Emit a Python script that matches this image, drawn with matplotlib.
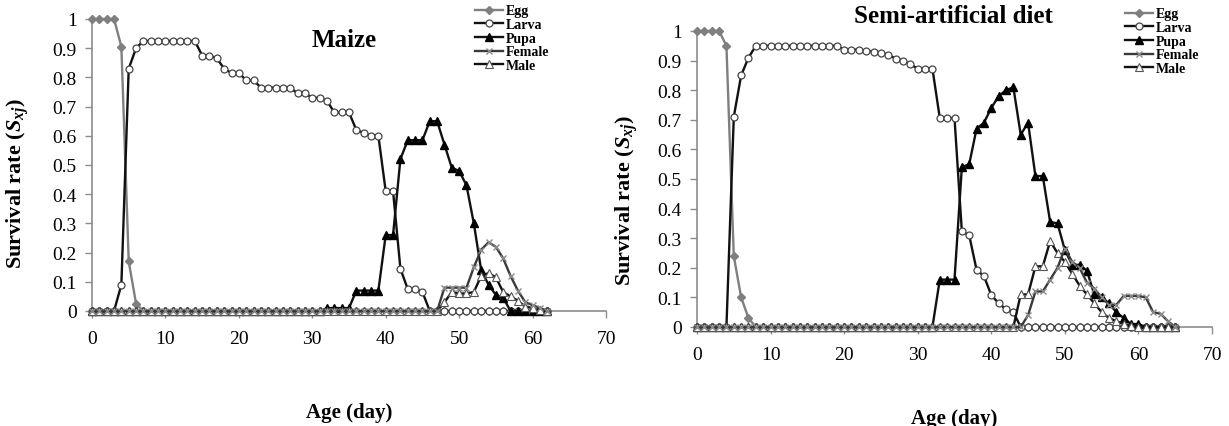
import matplotlib
matplotlib.use('Agg')
import matplotlib.pyplot as plt

plt.rcParams['font.family'] = ['Liberation Serif', 'DejaVu Serif']
plt.rcParams['mathtext.fontset'] = 'custom'
plt.rcParams['mathtext.it'] = 'Liberation Serif:italic:bold'
plt.rcParams['mathtext.rm'] = 'Liberation Serif:bold'
plt.rcParams['mathtext.bf'] = 'Liberation Serif:bold'

# ---------------- Maize (days 0-62) ----------------
maize_days = list(range(0, 63))
maize_egg = [1, 1, 1, 1, 0.905, 0.17, 0.025, 0, 0, 0,
             0, 0, 0, 0, 0, 0, 0, 0, 0, 0,
             0, 0, 0, 0, 0, 0, 0, 0, 0, 0,
             0, 0, 0, 0, 0, 0, 0, 0, 0, 0,
             0, 0, 0, 0, 0, 0, 0, 0, 0, 0,
             0, 0, 0, 0, 0, 0, 0, 0, 0, 0,
             0, 0, 0]
maize_larva = [0, 0, 0, 0, 0.09, 0.83, 0.90, 0.925, 0.925, 0.925,
               0.925, 0.925, 0.925, 0.925, 0.925, 0.875, 0.875, 0.865, 0.83, 0.815,
               0.815, 0.79, 0.79, 0.765, 0.765, 0.765, 0.765, 0.765, 0.745, 0.745,
               0.73, 0.73, 0.72, 0.68, 0.68, 0.68, 0.62, 0.61, 0.60, 0.60,
               0.41, 0.41, 0.145, 0.075, 0.075, 0.065, 0, 0, 0, 0,
               0, 0, 0, 0, 0, 0, 0, 0, 0, 0,
               0, 0, 0]
maize_pupa = [0, 0, 0, 0, 0, 0, 0, 0, 0, 0,
              0, 0, 0, 0, 0, 0, 0, 0, 0, 0,
              0, 0, 0, 0, 0, 0, 0, 0, 0, 0,
              0, 0, 0.01, 0.01, 0.01, 0.01, 0.07, 0.07, 0.07, 0.07,
              0.26, 0.26, 0.52, 0.585, 0.585, 0.585, 0.65, 0.65, 0.57, 0.49,
              0.48, 0.43, 0.30, 0.14, 0.09, 0.055, 0.045, 0, 0, 0,
              0, 0, 0]
maize_female = [0, 0, 0, 0, 0, 0, 0, 0, 0, 0,
                0, 0, 0, 0, 0, 0, 0, 0, 0, 0,
                0, 0, 0, 0, 0, 0, 0, 0, 0, 0,
                0, 0, 0, 0, 0, 0, 0, 0, 0, 0,
                0, 0, 0, 0, 0, 0, 0, 0, 0.08, 0.08,
                0.08, 0.08, 0.15, 0.21, 0.235, 0.22, 0.18, 0.12, 0.07, 0.03,
                0.02, 0.01, 0]
maize_male = [0, 0, 0, 0, 0, 0, 0, 0, 0, 0,
              0, 0, 0, 0, 0, 0, 0, 0, 0, 0,
              0, 0, 0, 0, 0, 0, 0, 0, 0, 0,
              0, 0, 0, 0, 0, 0, 0, 0, 0, 0,
              0, 0, 0, 0, 0, 0, 0, 0, 0.03, 0.065,
              0.06, 0.06, 0.065, 0.12, 0.13, 0.115, 0.065, 0.05, 0.035, 0.015,
              0.01, 0.005, 0]

# ---------------- Semi-artificial diet (days 0-65) ----------------
diet_days = list(range(0, 66))
diet_egg = [1, 1, 1, 1, 0.95, 0.24, 0.10, 0.03, 0, 0,
            0, 0, 0, 0, 0, 0, 0, 0, 0, 0,
            0, 0, 0, 0, 0, 0, 0, 0, 0, 0,
            0, 0, 0, 0, 0, 0, 0, 0, 0, 0,
            0, 0, 0, 0, 0, 0, 0, 0, 0, 0,
            0, 0, 0, 0, 0, 0, 0, 0, 0, 0,
            0, 0, 0, 0, 0, 0]
diet_larva = [0, 0, 0, 0, 0, 0.71, 0.85, 0.91, 0.95, 0.95,
              0.95, 0.95, 0.95, 0.95, 0.95, 0.95, 0.95, 0.95, 0.95, 0.95,
              0.937, 0.937, 0.937, 0.933, 0.93, 0.927, 0.92, 0.907, 0.90, 0.887,
              0.873, 0.873, 0.873, 0.706, 0.706, 0.706, 0.323, 0.31, 0.193, 0.172,
              0.108, 0.08, 0.06, 0.05, 0, 0, 0, 0, 0, 0,
              0, 0, 0, 0, 0, 0, 0, 0, 0, 0,
              0, 0, 0, 0, 0, 0]
diet_pupa = [0, 0, 0, 0, 0, 0, 0, 0, 0, 0,
             0, 0, 0, 0, 0, 0, 0, 0, 0, 0,
             0, 0, 0, 0, 0, 0, 0, 0, 0, 0,
             0, 0, 0, 0.16, 0.16, 0.16, 0.54, 0.55, 0.67, 0.69,
             0.74, 0.78, 0.80, 0.81, 0.65, 0.69, 0.51, 0.51, 0.355, 0.35,
             0.26, 0.21, 0.21, 0.19, 0.11, 0.10, 0.08, 0.05, 0.03, 0.01,
             0.01, 0, 0, 0, 0, 0]
diet_female = [0, 0, 0, 0, 0, 0, 0, 0, 0, 0,
               0, 0, 0, 0, 0, 0, 0, 0, 0, 0,
               0, 0, 0, 0, 0, 0, 0, 0, 0, 0,
               0, 0, 0, 0, 0, 0, 0, 0, 0, 0,
               0, 0, 0, 0, 0, 0.04, 0.12, 0.12, 0.16, 0.20,
               0.265, 0.22, 0.20, 0.15, 0.13, 0.10, 0.075, 0.075, 0.105, 0.105,
               0.105, 0.10, 0.05, 0.045, 0.02, 0]
diet_male = [0, 0, 0, 0, 0, 0, 0, 0, 0, 0,
             0, 0, 0, 0, 0, 0, 0, 0, 0, 0,
             0, 0, 0, 0, 0, 0, 0, 0, 0, 0,
             0, 0, 0, 0, 0, 0, 0, 0, 0, 0,
             0, 0, 0, 0, 0.11, 0.11, 0.205, 0.205, 0.29, 0.25,
             0.22, 0.18, 0.14, 0.11, 0.08, 0.05, 0.03, 0.02, 0.01, 0.005,
             0, 0, 0, 0, 0, 0]

stage_names = ['Egg', 'Larva', 'Pupa', 'Female', 'Male']
x_ticks = [0, 10, 20, 30, 40, 50, 60, 70]
y_ticks = [0, 0.1, 0.2, 0.3, 0.4, 0.5, 0.6, 0.7, 0.8, 0.9, 1]
y_ticklabels = ['0', '0.1', '0.2', '0.3', '0.4', '0.5', '0.6', '0.7', '0.8', '0.9', '1']

styles = {
    'Egg':    dict(color='#7f7f7f', marker='D', ms=4, mfc='#7f7f7f', mec='#7f7f7f', lw=1.7),
    'Larva':  dict(color='#111111', marker='o', ms=5, mfc='white', mec='#444444', mew=0.9, lw=1.7),
    'Pupa':   dict(color='#111111', marker='^', ms=6, mfc='black', mec='black', lw=1.7),
    'Female': dict(color='#3a3a3a', marker='x', ms=5, mfc='#8a8a8a', mec='#8a8a8a', mew=1.0, lw=1.7),
    'Male':   dict(color='#111111', marker='^', ms=6, mfc='white', mec='#555555', mew=0.8, lw=1.7),
}
zorders = {'Egg': 3, 'Larva': 4, 'Pupa': 5, 'Male': 6, 'Female': 7}

W, H = 1229, 427
fig = plt.figure(figsize=(W / 100, H / 100), dpi=100)

def add_axes_px(x0, x70, y0, y1):
    return fig.add_axes([x0 / W, 1 - y0 / H, (x70 - x0) / W, (y0 - y1) / H])

ax1 = add_axes_px(92, 606, 312, 20)
ax2 = add_axes_px(697, 1212, 328, 32)

panels = [
    (ax1, maize_days, [maize_egg, maize_larva, maize_pupa, maize_female, maize_male]),
    (ax2, diet_days, [diet_egg, diet_larva, diet_pupa, diet_female, diet_male]),
]

for ax, days, series in panels:
    for name, vals in zip(stage_names, series):
        ax.plot(days, vals, label=name, clip_on=False, zorder=zorders[name], **styles[name])
    ax.set_xlim(0, 70)
    ax.set_ylim(0, 1)
    ax.set_xticks(x_ticks)
    ax.set_yticks(y_ticks)
    ax.set_yticklabels(y_ticklabels)
    for s in ['top', 'right']:
        ax.spines[s].set_visible(False)
    for s in ['left', 'bottom']:
        ax.spines[s].set_color('#8c8c8c')
        ax.spines[s].set_linewidth(1.2)
    ax.tick_params(axis='both', direction='out', length=5, width=1.0, color='#8c8c8c',
                   labelsize=14, pad=6)
    ax.tick_params(axis='x', pad=9)
    ax.set_xlabel('Age (day)', fontsize=15, fontweight='bold')
    ax.set_ylabel(r'Survival rate ($S_{xj}$)', fontsize=16, fontweight='bold')

ax1.xaxis.set_label_coords(0.5, -0.31)
ax2.xaxis.set_label_coords(0.5, -0.275)
ax1.yaxis.set_label_coords(-0.118, 0.44)
ax2.yaxis.set_label_coords(-0.11, 0.43)

ax1.text(0.49, 0.93, 'Maize', transform=ax1.transAxes, ha='center', va='center',
         fontsize=18, fontweight='bold')
ax2.text(0.497, 1.054, 'Semi-artificial diet', transform=ax2.transAxes, ha='center',
         va='center', fontsize=18, fontweight='bold')

def make_legend(ax, x_px, y_px):
    leg = ax.legend(loc='upper left', bbox_to_anchor=(x_px / W, 1 - y_px / H),
                    bbox_transform=fig.transFigure, frameon=False,
                    prop={'family': 'Liberation Serif', 'weight': 'bold', 'size': 10},
                    handlelength=2.0, handletextpad=0.2, labelspacing=0.05,
                    borderpad=0.1, borderaxespad=0)
    return leg

make_legend(ax1, 474, 4)
make_legend(ax2, 1124, 7)

fig.savefig('out.png', dpi=100)
